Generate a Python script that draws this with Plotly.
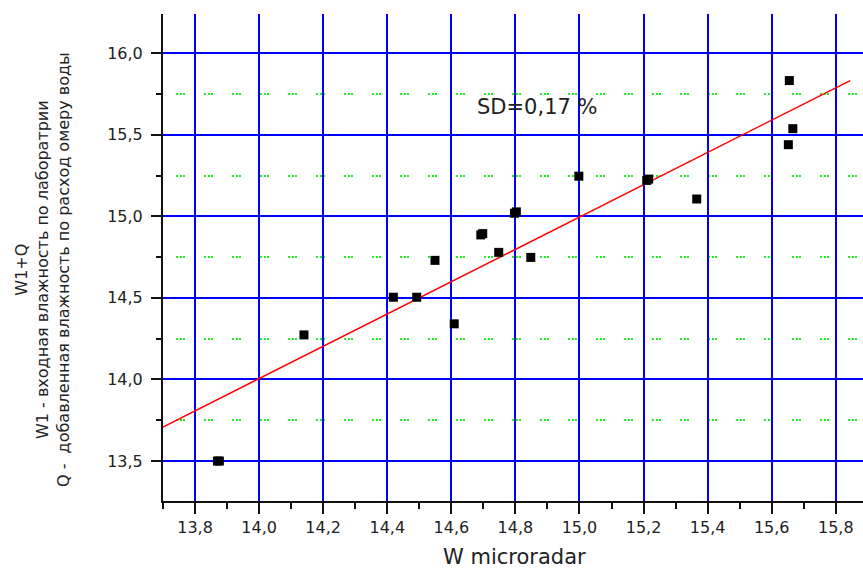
import plotly.graph_objects as go

# Measured points (W microradar vs W1+Q); duplicated entries = overlapping measurements
w_microradar = [13.870, 13.876, 14.140, 14.419, 14.492, 14.549, 14.609, 14.692, 14.698,
                14.748, 14.797, 14.803, 14.848, 14.998, 15.210, 15.216, 15.366,
                15.655, 15.666, 15.652]
w1_plus_q = [13.500, 13.500, 14.273, 14.504, 14.504, 14.730, 14.341, 14.886, 14.894,
             14.779, 15.019, 15.027, 14.748, 15.246, 15.220, 15.228, 15.106,
             15.832, 15.537, 15.439]

# Regression line end points
fit_x = [13.700, 15.845]
fit_y = [13.708, 15.832]

sd_label = "SD=0,17 %"
x_title = "W microradar"
y_title_lines = ["W1+Q",
                 "W1 - входная влажность по лаборатрии",
                 "Q -  добавленная влажность по расход омеру воды"]

FONT = "DejaVu Sans"
fig = go.Figure()
fig.add_trace(go.Scatter(x=fit_x, y=fit_y, mode="lines",
                         line=dict(color="#ff0000", width=1.5), hoverinfo="skip"))
fig.add_trace(go.Scatter(x=w_microradar, y=w1_plus_q, mode="markers",
                         marker=dict(symbol="square", size=9, color="black",
                                     line=dict(width=0))))

L, T, B = 163, 14, 71
W, H = 863, 572
pw = W - L
ph = H - T - B

fig.update_layout(
    width=W, height=H,
    margin=dict(l=L, r=0, t=T, b=B, pad=0),
    paper_bgcolor="white", plot_bgcolor="white",
    showlegend=False,
    separators=", ",
    font=dict(family=FONT, size=16, color="#222222"),
    xaxis=dict(
        range=[13.7, 15.885], tickmode="linear", tick0=13.8, dtick=0.2,
        tickformat=".1f", showgrid=True, gridcolor="#0000ff", gridwidth=2,
        zeroline=False, showline=True, linecolor="#111111", linewidth=2,
        ticks="outside", ticklen=11, tickwidth=1.5, tickcolor="#111111",
        tickfont=dict(family=FONT, size=16, color="#222222"),
        minor=dict(dtick=0.1, tick0=13.7, ticks="outside", ticklen=6,
                   tickwidth=1.5, tickcolor="#111111", showgrid=False),
    ),
    yaxis=dict(
        range=[13.255, 16.24], tickmode="linear", tick0=13.5, dtick=0.5,
        tickformat=".1f", showgrid=True, gridcolor="#0000ff", gridwidth=2,
        zeroline=False, showline=True, linecolor="#111111", linewidth=2,
        ticks="outside", ticklen=10, tickwidth=1.5, tickcolor="#111111",
        ticklabelstandoff=5,
        tickfont=dict(family=FONT, size=16, color="#222222"),
        minor=dict(dtick=0.25, tick0=13.25, ticks="outside", ticklen=5,
                   tickwidth=1.5, tickcolor="#111111", showgrid=True,
                   gridcolor="#22ee22", gridwidth=2,
                   griddash="0px,13px,2px,1.5px,2px,1.5px,2px,6px"),
    ),
)

fig.add_annotation(text=sd_label, x=14.867, y=15.669, xref="x", yref="y",
                   showarrow=False, xanchor="center", yanchor="middle",
                   font=dict(family=FONT, size=21, color="#222222"))
fig.add_annotation(text=x_title, x=(514 - L) / pw, y=-(B - 1) / ph,
                   xref="paper", yref="paper", showarrow=False,
                   xanchor="center", yanchor="bottom",
                   font=dict(family=FONT, size=21, color="#222222"))
fig.add_annotation(text="<br>".join(y_title_lines), x=(42 - L) / pw,
                   y=(H - B - 270) / ph, xref="paper", yref="paper",
                   showarrow=False, textangle=-90, align="center",
                   xanchor="center", yanchor="middle",
                   font=dict(family=FONT, size=16, color="#222222"))

fig.write_html("out.html",
               config={"displayModeBar": False},
               post_script="document.body.style.margin='0';"
                           "document.body.style.overflow='hidden';")
